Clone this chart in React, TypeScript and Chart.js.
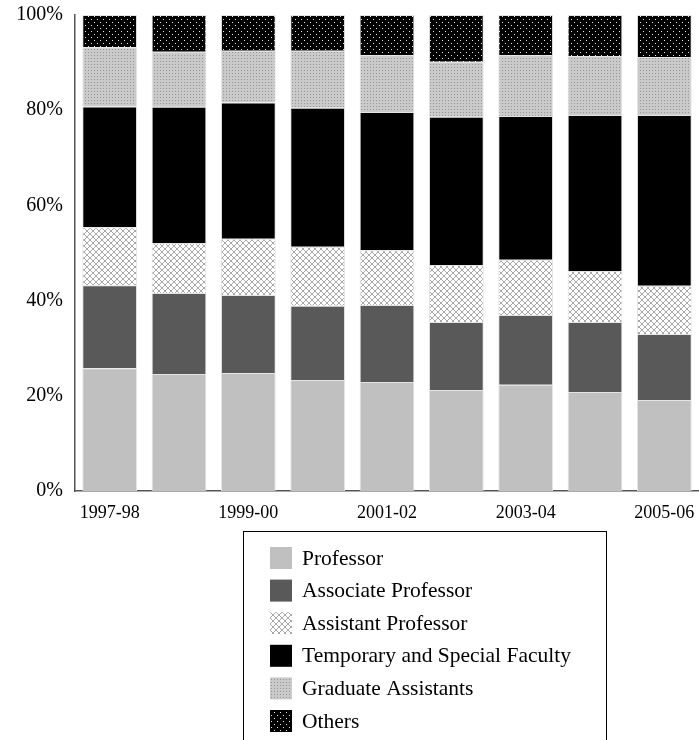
import React, { useEffect, useRef } from "react";
import { Chart, registerables } from "chart.js";
Chart.register(...registerables);

const categories = ["1997-98", "1998-99", "1999-00", "2000-01", "2001-02", "2002-03", "2003-04", "2004-05", "2005-06"];
const professor = [25.8, 24.6, 24.8, 23.3, 22.9, 21.2, 22.3, 20.8, 19.1];
const associateProfessor = [17.4, 17.0, 16.4, 15.6, 16.2, 14.3, 14.7, 14.7, 13.9];
const assistantProfessor = [12.2, 10.5, 11.8, 12.4, 11.5, 12.0, 11.6, 10.7, 10.1];
const temporarySpecial = [25.4, 28.6, 28.6, 29.2, 29.0, 31.1, 30.2, 32.8, 35.9];
const graduateAssistants = [12.4, 11.6, 10.9, 12.0, 12.0, 11.6, 12.8, 12.4, 12.2];
const others = [6.8, 7.7, 7.5, 7.5, 8.4, 9.8, 8.4, 8.6, 8.8];
const seriesNames = ["Professor", "Associate Professor", "Assistant Professor", "Temporary and Special Faculty", "Graduate Assistants", "Others"];
const yMax = 100;
const yStep = 20;

const FONT = "'Liberation Serif', 'Times New Roman', serif";

function makePattern(w: number, h: number, draw: (c: CanvasRenderingContext2D) => void): CanvasPattern {
  const c = document.createElement("canvas");
  c.width = w;
  c.height = h;
  const ctx = c.getContext("2d")!;
  draw(ctx);
  return ctx.createPattern(c, "repeat")!;
}

export default function App() {
  const ref = useRef<HTMLCanvasElement>(null);
  useEffect(() => {
    const canvas = ref.current!;
    const assistantPat = makePattern(6, 6, (c) => {
      c.fillStyle = "#ffffff";
      c.fillRect(0, 0, 6, 6);
      c.fillStyle = "#a8a8a8";
      for (let i = 0; i < 6; i++) {
        c.fillRect(i, i, 1, 1);
        c.fillRect(5 - i, i, 1, 1);
      }
    });
    const gradPat = makePattern(3, 3, (c) => {
      c.fillStyle = "#cacaca";
      c.fillRect(0, 0, 3, 3);
      c.fillStyle = "#969696";
      c.fillRect(1, 1, 1, 1);
    });
    const othersPat = makePattern(6, 6, (c) => {
      c.fillStyle = "#000000";
      c.fillRect(0, 0, 6, 6);
      c.fillStyle = "#e6e6e6";
      c.fillRect(1, 1, 1, 1);
      c.fillRect(4, 4, 1, 1);
    });

    const fills: (string | CanvasPattern)[] = ["#c0c0c0", "#595959", assistantPat, "#000000", gradPat, othersPat];
    const values = [professor, associateProfessor, assistantProfessor, temporarySpecial, graduateAssistants, others];

    const legendPlugin = {
      id: "boxLegend",
      afterDraw(chart: any) {
        const ctx: CanvasRenderingContext2D = chart.ctx;
        ctx.save();
        ctx.strokeStyle = "#000";
        ctx.lineWidth = 1;
        ctx.strokeRect(243.5, 531.5, 363, 230);
        chart.data.datasets.forEach((ds: any, i: number) => {
          const cy = 558 + i * 32.6;
          ctx.fillStyle = ds.backgroundColor;
          ctx.fillRect(270, cy - 11, 22, 22);
          ctx.fillStyle = "#000";
          ctx.font = `21.5px ${FONT}`;
          ctx.textBaseline = "middle";
          ctx.textAlign = "left";
          ctx.fillText(ds.label, 302, cy + 1);
        });
        ctx.restore();
      },
    };

    const chart = new Chart(canvas, {
      type: "bar",
      data: {
        labels: categories,
        datasets: values.map((v, i) => ({
          label: seriesNames[i],
          data: v,
          backgroundColor: fills[i] as any,
          borderColor: "#e4e4e4",
          borderWidth: 1,
          barPercentage: 0.79,
          categoryPercentage: 1,
        })),
      },
      options: {
        responsive: false,
        animation: false,
        devicePixelRatio: 1,
        layout: { padding: { top: 15, right: 0, left: 0, bottom: 0 } },
        plugins: { legend: { display: false }, tooltip: { enabled: false } },
        scales: {
          x: {
            stacked: true,
            offset: true,
            grid: { display: false, drawTicks: false },
            border: { display: true, color: "#555555", width: 1.5 },
            ticks: {
              autoSkip: false,
              maxRotation: 0,
              padding: 11,
              color: "#000",
              font: { family: FONT, size: 18 },
              callback: (_v: any, idx: number) => (idx % 2 === 0 ? categories[idx] : ""),
            },
            afterFit: (scale: any) => {
              scale.height = 249;
              scale.paddingLeft = 0;
              scale.paddingRight = 0;
            },
          },
          y: {
            stacked: true,
            min: 0,
            max: yMax,
            grid: { display: false, drawTicks: false },
            border: { display: true, color: "#555555", width: 1.5 },
            ticks: {
              stepSize: yStep,
              padding: 12,
              color: "#000",
              font: { family: FONT, size: 20 },
              callback: (v: any) => `${v}%`,
            },
            afterFit: (scale: any) => {
              scale.width = 75;
              scale.paddingTop = 0;
              scale.paddingBottom = 0;
            },
          },
        },
      },
      plugins: [legendPlugin],
    });
    return () => chart.destroy();
  }, []);
  return (
    <div style={{ position: "absolute", left: 0, top: 0, width: 699, height: 740, overflow: "hidden", background: "#fff" }}>
      <canvas ref={ref} width={699} height={740} style={{ display: "block" }} />
    </div>
  );
}
